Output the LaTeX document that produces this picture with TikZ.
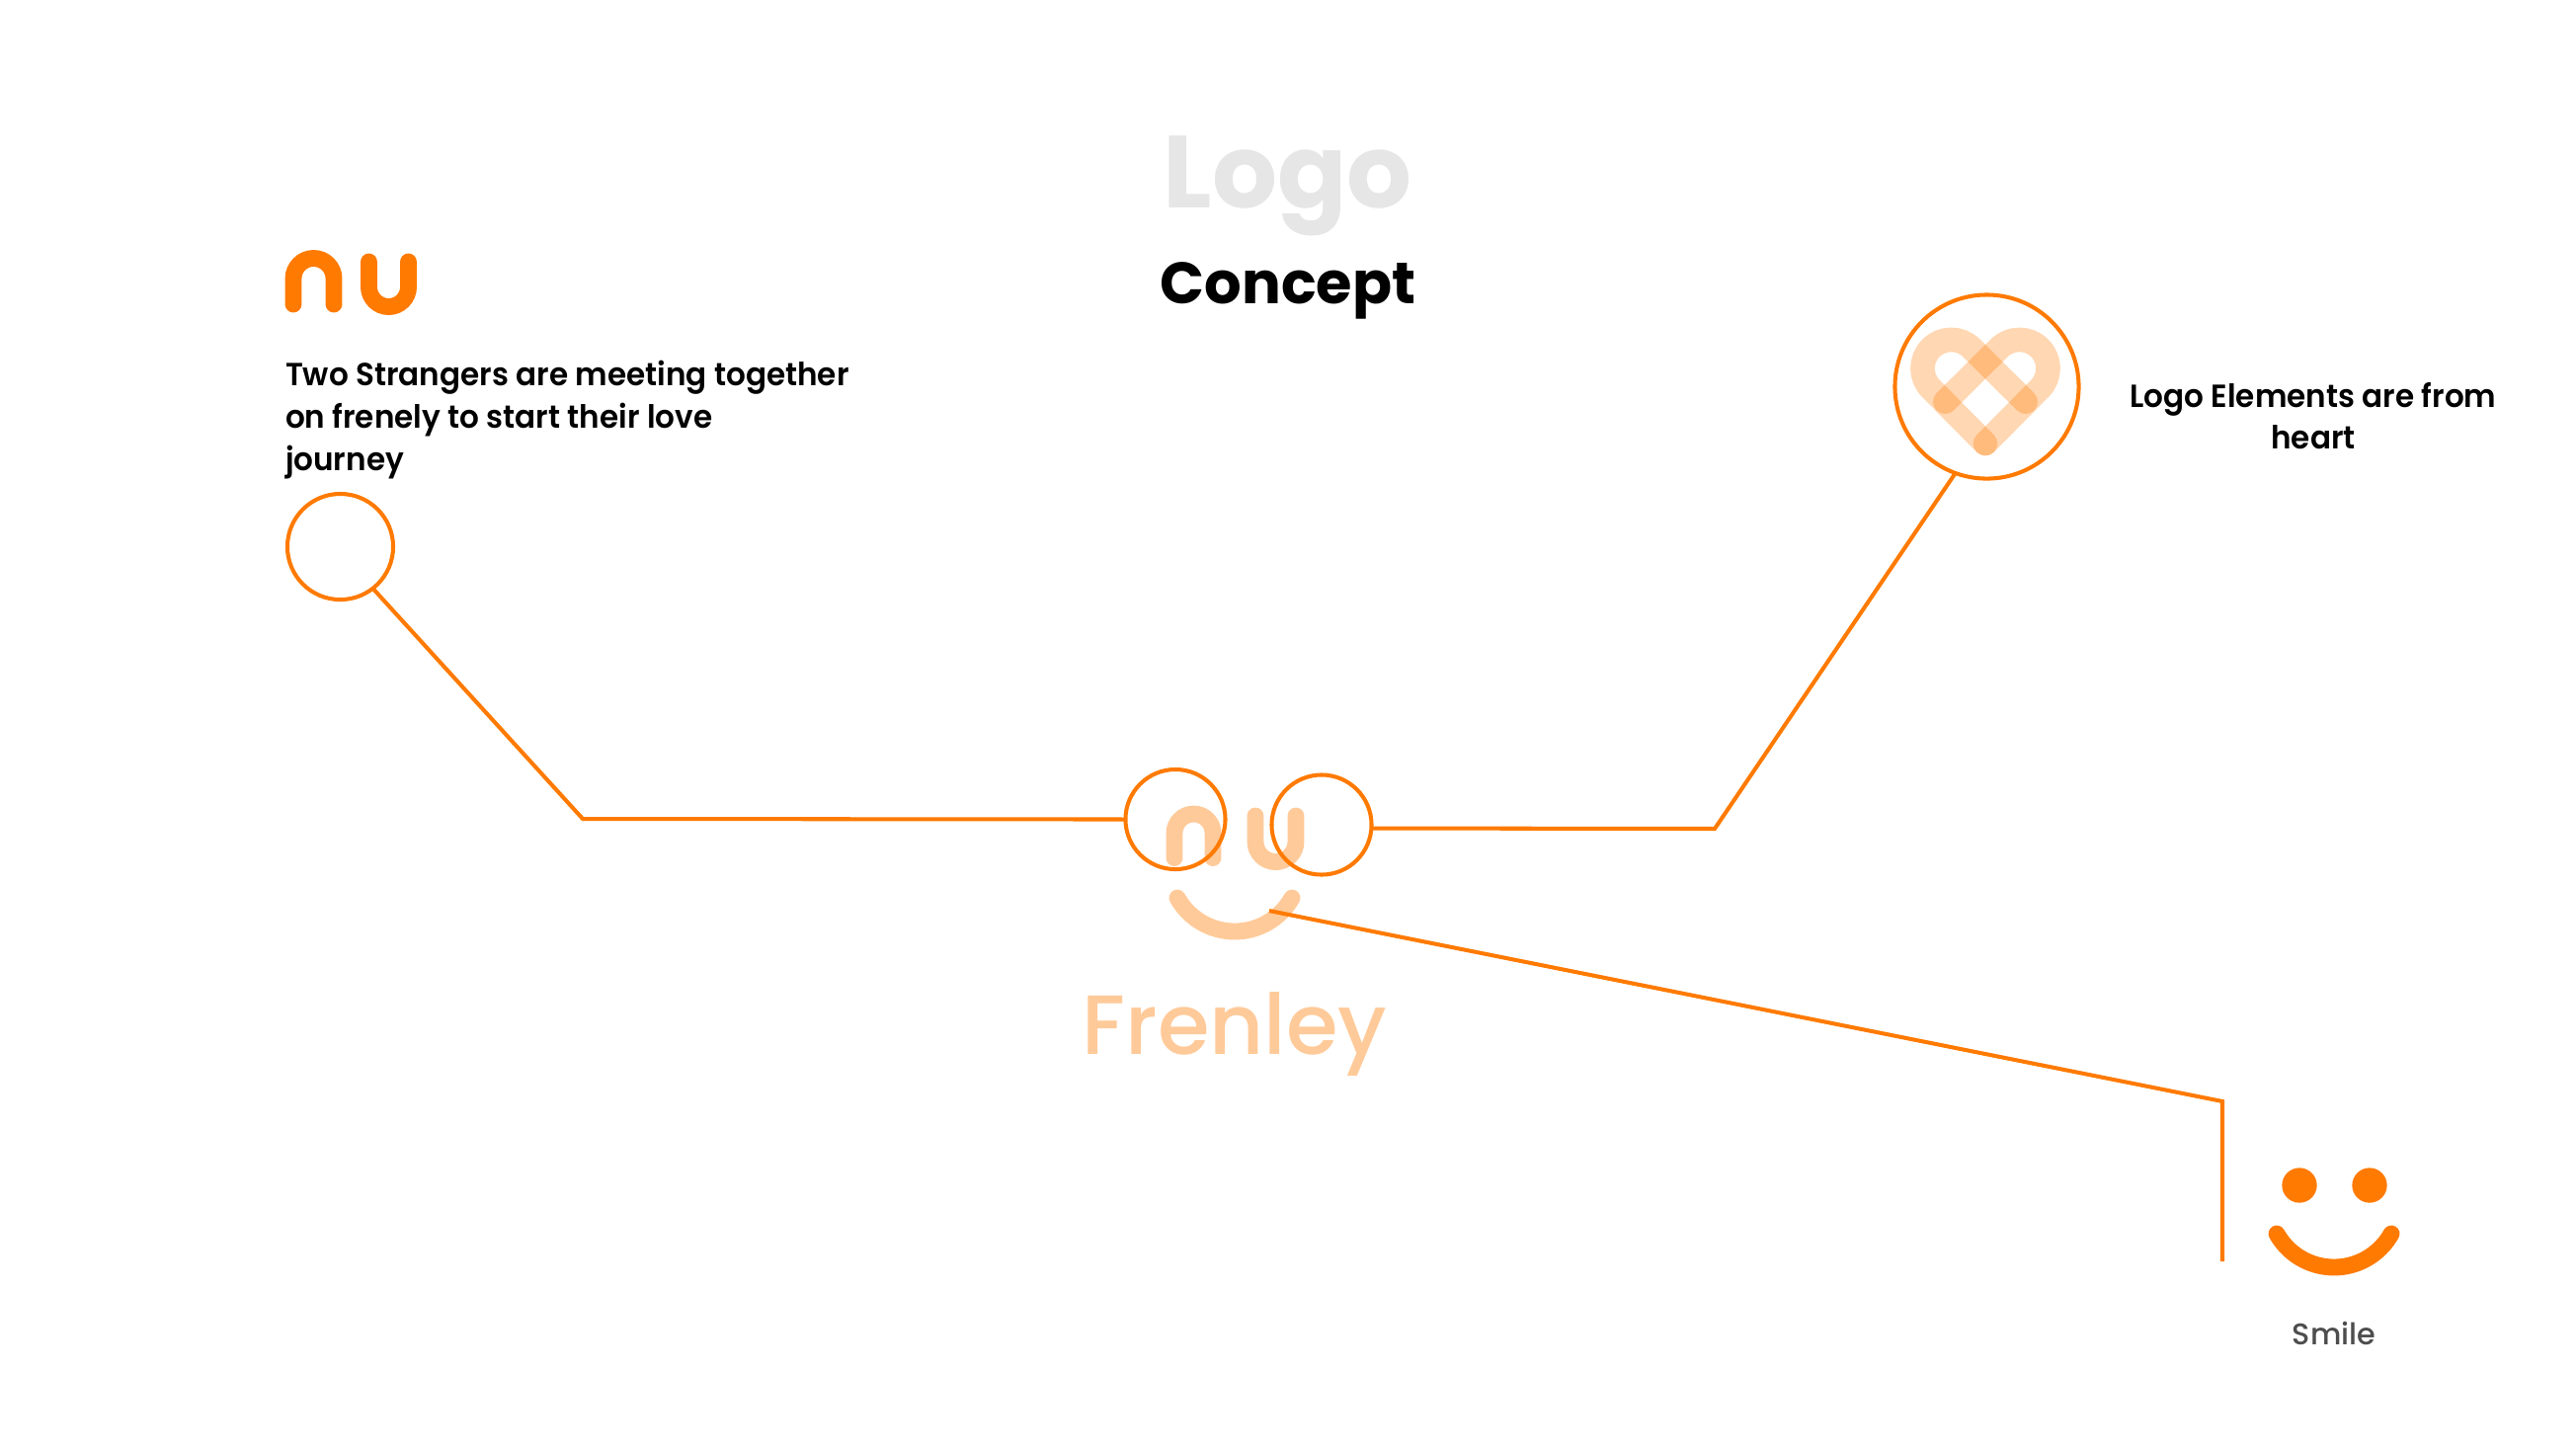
\documentclass[tikz,border=0pt]{standalone}
\usepackage{fontspec}
\setmainfont{Poppins}
\newfontfamily\strongfont[FakeStretch=0.96]{Poppins SemiBold}
\newfontfamily\mediumfont{Poppins Medium}
\usetikzlibrary{positioning}
\definecolor{brandorange}{HTML}{FF7A00}
\definecolor{paleorange}{HTML}{FFCA99}
\definecolor{titlegray}{HTML}{E6E6E6}
\definecolor{smilegray}{HTML}{4D4D4D}
\begin{document}
\begin{tikzpicture}[
    x=0.01cm, y=-0.01cm,
    every node/.append style={inner sep=0pt, outer sep=0pt},
    % 文字样式
    titlelogo/.style={font=\fontsize{29.5}{32}\selectfont\bfseries, text=titlegray},
    titleconcept/.style={font=\fontsize{16.8}{20}\selectfont\bfseries, text=black},
    bodytext/.style={font=\fontsize{9.2}{12.2}\selectfont\strongfont, text=black},
    captiontext/.style={font=\fontsize{8.6}{11}\selectfont\mediumfont, text=smilegray},
    brandname/.style={font=\fontsize{24.2}{28}\selectfont\mediumfont, text=paleorange},
    % 图形样式
    ring/.style={draw=brandorange, line width=1.15pt, circle},
    leader/.style={draw=brandorange, line width=1.15pt, line join=miter},
    glyph/.style={line width=4.8pt, line cap=round},
    ribbon/.style={draw=brandorange, line width=7pt, line cap=round, opacity=0.3},
    eyedot/.style={circle, fill=brandorange, minimum size=0.353cm},
]
\useasboundingbox (0,0) rectangle (2608,1468);

% ========== 标题 ==========
\node[titlelogo] (logotitle) at (1304,188) {Logo};
\node[titleconcept] (concepttitle) at (1304,294) {Concept};

% ========== 左上 nu 标志 ==========
\draw[glyph, brandorange] (297,308) -- (297,282) arc[start angle=180, end angle=0, radius=0.205cm] -- (338,308);
\draw[glyph, brandorange] (373.5,265) -- (373.5,290.5) arc[start angle=180, end angle=360, radius=0.2cm] -- (413.5,265);
\node[bodytext, anchor=north west, align=left] (strangertext) at (289,365) {Two Strangers are meeting together\\on frenely to start their love\\journey};

% ========== 中央标志 ==========
\draw[glyph, paleorange] (1189,868.5) -- (1189,843.5) arc[start angle=180, end angle=0, radius=0.195cm] -- (1228,868.5);
\draw[glyph, paleorange] (1271,826) -- (1271,852) arc[start angle=180, end angle=360, radius=0.205cm] -- (1312,826);
\draw[glyph, paleorange] (1192,909) arc[start angle=209.3, end angle=330.7, radius=0.665cm];
\node[brandname] (frenleyname) at (1250,1047) {Frenley};

% ========== 心形 ==========
\draw[ribbon] (1969.3,406.7) -- (2024,352.4) arc[start angle=135, end angle=-45, radius=0.29cm] -- (2010,449);
\draw[ribbon] (2050.7,406.7) -- (1996,352.4) arc[start angle=45, end angle=225, radius=0.29cm] -- (2010,449);
\node[bodytext, align=center] (hearttext) at (2342,421) {Logo Elements are from\\heart};

% ========== 笑脸 ==========
\node[eyedot] (eyedotleft) at (2328,1200) {};
\node[eyedot] (eyedotright) at (2399,1200) {};
\draw[glyph, brandorange] (2305,1249) arc[start angle=209.3, end angle=330.7, radius=0.665cm];
\node[captiontext] (smiletext) at (2363,1350) {Smile};

% ========== 圆环 ==========
\node[ring, minimum size=1.07cm] (strangerring) at (344.5,553.5) {};
\node[ring, minimum size=1.01cm] (eyeleft) at (1190,829.5) {};
\node[ring, minimum size=1.01cm] (eyeright) at (1338,835) {};
\node[ring, minimum size=1.86cm] (heartring) at (2011.5,391.5) {};

% ========== 连接线 ==========
\coordinate (bendleft) at (590,829);
\coordinate (bendright) at (1736,839);
\coordinate (smilestart) at (1285,922);
\coordinate (bendsmile) at (2250,1115);
\coordinate (smileend) at (2250,1277);
\draw[leader] (strangerring.-52) -- (bendleft) -- (eyeleft.west);
\draw[leader] (eyeright.-4) -- (bendright) -- (heartring.-110);
\draw[leader] (smilestart) -- (bendsmile) -- (smileend);

\end{tikzpicture}
\end{document}
